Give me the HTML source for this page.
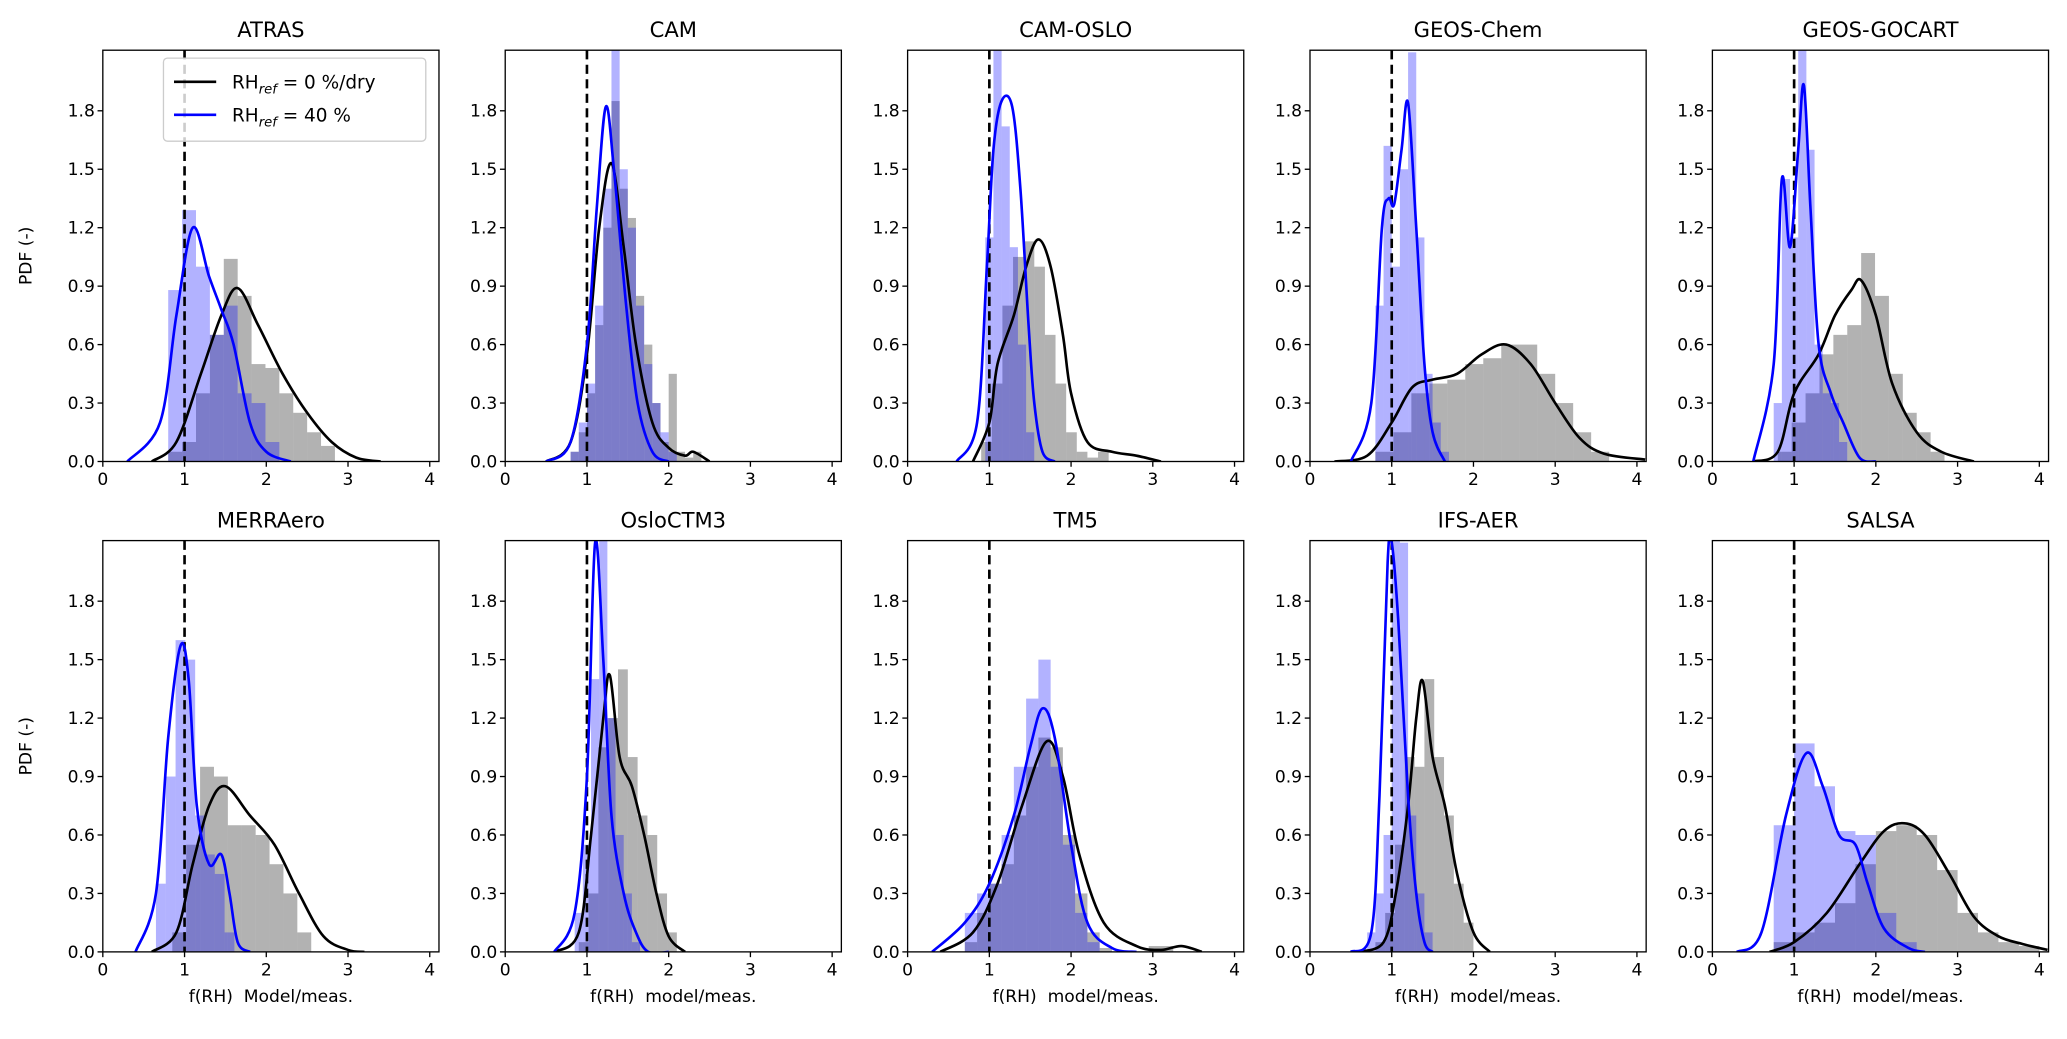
<!DOCTYPE html>
<html><head><meta charset="utf-8"><style>
html,body{margin:0;padding:0;background:#fff}
svg{display:block;font-family:"DejaVu Sans","Liberation Sans",sans-serif}
</style></head><body>
<svg id="chart" width="2067" height="1039" viewBox="0 0 1568 788" xmlns="http://www.w3.org/2000/svg"></svg>
<script>
const titles = ["ATRAS","CAM","CAM-OSLO","GEOS-Chem","GEOS-GOCART","MERRAero","OsloCTM3","TM5","IFS-AER","SALSA"];
const xTicks = [0,1,2,3,4];
const yTicks = [0.0,0.3,0.6,0.9,1.2,1.5,1.8];
const xLabels = ["f(RH)\u00a0\u00a0Model/meas.","f(RH)\u00a0\u00a0model/meas.","f(RH)\u00a0\u00a0model/meas.","f(RH)\u00a0\u00a0model/meas.","f(RH)\u00a0\u00a0model/meas."];
// histogram bins: [start, width, heights]
const dryHistStart = [0.8,0.8,0.9,0.8,0.8,0.85,0.9,0.7,0.8,0.75];
const dryHistWidth = [0.17,0.1,0.13,0.22,0.17,0.17,0.12,0.15,0.12,0.25];
const dryHist = [
 [0.05,0.1,0.35,0.65,1.04,0.85,0.5,0.48,0.35,0.25,0.15,0.08],
 [0.05,0.15,0.35,0.7,1.2,1.85,1.4,1.25,0.85,0.6,0.3,0.1,0.45,0.05,0.02,0.05],
 [0.1,0.4,0.8,1.05,1.13,1.0,0.65,0.4,0.15,0.05,0.02,0.05],
 [0.05,0.15,0.35,0.4,0.42,0.5,0.53,0.6,0.6,0.45,0.3,0.15,0.05],
 [0.05,0.2,0.35,0.55,0.65,0.7,1.07,0.85,0.45,0.25,0.15,0.05],
 [0.1,0.55,0.95,0.9,0.65,0.65,0.6,0.45,0.3,0.1],
 [0.05,0.3,1.05,1.2,1.45,1.0,0.7,0.6,0.3,0.1],
 [0.05,0.2,0.35,0.45,0.7,0.95,1.1,1.05,0.6,0.3,0.1,0.02,0,0,0,0.03,0.03],
 [0.05,0.2,0.55,1.0,0.95,1.4,1.0,0.7,0.35,0.15],
 [0.05,0.1,0.15,0.25,0.45,0.62,0.65,0.6,0.42,0.2,0.1,0.05,0.03]
];
const wetHistStart = [0.8,0.8,0.95,0.8,0.75,0.65,0.85,0.7,0.7,0.75];
const wetHistWidth = [0.17,0.1,0.1,0.1,0.1,0.12,0.1,0.15,0.1,0.25];
const wetHist = [
 [0.88,1.29,1.0,0.65,0.8,0.35,0.3,0.1],
 [0.05,0.2,0.4,0.8,1.4,2.2,1.5,1.2,0.8,0.5,0.3,0.15,0.05],
 [1.15,2.15,1.72,1.1,0.6,0.15],
 [0.8,1.62,1.0,1.5,2.1,1.15,0.45,0.2,0.05],
 [0.3,1.45,1.15,2.2,1.6,0.6,0.35,0.3,0.1],
 [0.35,0.9,1.6,1.5,0.7,0.5,0.4,0.1],
 [0.2,0.55,1.4,2.2,1.2,0.6,0.3,0.05],
 [0.2,0.3,0.35,0.6,0.95,1.3,1.5,0.95,0.55,0.2,0.05],
 [0.1,0.3,0.6,2.2,2.1,0.7,0.3,0.1],
 [0.65,1.07,0.85,0.62,0.6,0.2,0.05]
];
// KDE curves: x and y samples
const dryKdeX = [
 [0.6,0.9,1.2,1.45,1.65,1.9,2.2,2.5,2.8,3.1,3.4],
 [0.5,0.8,1.0,1.15,1.3,1.45,1.6,1.8,2.0,2.2,2.3,2.5],
 [0.8,1.0,1.1,1.3,1.45,1.6,1.75,1.9,2.0,2.2,2.5,2.8,3.1],
 [0.3,0.7,1.0,1.25,1.5,1.8,2.1,2.4,2.7,3.0,3.3,3.6,4.1],
 [0.5,0.8,1.0,1.3,1.5,1.7,1.82,2.0,2.2,2.5,2.8,3.2],
 [0.6,0.9,1.1,1.3,1.5,1.8,2.1,2.4,2.7,3.0,3.2],
 [0.6,0.9,1.05,1.2,1.28,1.4,1.55,1.7,1.85,2.0,2.2],
 [0.4,0.8,1.1,1.4,1.7,1.9,2.1,2.4,2.8,3.1,3.35,3.6],
 [0.6,0.9,1.05,1.2,1.3,1.38,1.5,1.65,1.8,2.0,2.2],
 [0.7,1.0,1.4,1.8,2.1,2.35,2.6,2.9,3.2,3.5,3.8,4.1]
];
const dryKdeY = [
 [0,0.1,0.45,0.75,0.89,0.7,0.45,0.25,0.1,0.02,0],
 [0,0.1,0.55,1.2,1.53,1.1,0.6,0.2,0.07,0.03,0.05,0],
 [0,0.2,0.5,0.75,1.0,1.14,1.0,0.65,0.35,0.1,0.05,0.03,0],
 [0,0.03,0.2,0.38,0.42,0.45,0.55,0.6,0.5,0.3,0.12,0.04,0.01],
 [0,0.05,0.35,0.55,0.75,0.88,0.93,0.75,0.4,0.15,0.05,0],
 [0,0.1,0.45,0.75,0.85,0.7,0.55,0.3,0.08,0.01,0],
 [0,0.1,0.6,1.2,1.42,1.0,0.85,0.6,0.3,0.08,0],
 [0,0.1,0.35,0.75,1.08,0.9,0.5,0.15,0.03,0.01,0.03,0],
 [0,0.05,0.3,0.75,1.2,1.39,1.0,0.75,0.4,0.1,0],
 [0,0.05,0.2,0.45,0.62,0.66,0.6,0.4,0.18,0.08,0.04,0.01]
];
const wetKdeX = [
 [0.3,0.7,0.9,1.1,1.3,1.45,1.6,1.8,2.0,2.3],
 [0.5,0.8,1.0,1.12,1.23,1.33,1.48,1.62,1.8,2.0],
 [0.6,0.85,0.97,1.05,1.15,1.28,1.38,1.48,1.55,1.65,1.8],
 [0.5,0.75,0.88,0.96,1.03,1.12,1.2,1.3,1.4,1.5,1.65],
 [0.5,0.75,0.85,0.95,1.05,1.12,1.2,1.3,1.45,1.6,1.8,2.0],
 [0.4,0.65,0.8,0.95,1.05,1.15,1.3,1.45,1.55,1.65,1.8],
 [0.6,0.85,1.0,1.1,1.2,1.3,1.45,1.6,1.75,2.0],
 [0.3,0.7,1.0,1.3,1.5,1.65,1.8,2.0,2.2,2.5,2.8],
 [0.5,0.75,0.85,0.95,1.0,1.08,1.2,1.3,1.4,1.5],
 [0.3,0.6,0.9,1.15,1.35,1.55,1.75,1.9,2.1,2.4,2.6]
];
const wetKdeY = [
 [0,0.2,0.75,1.2,0.95,0.78,0.6,0.2,0.05,0],
 [0,0.1,0.6,1.3,1.82,1.5,0.8,0.3,0.05,0],
 [0,0.2,1.0,1.6,1.85,1.82,1.4,0.7,0.3,0.05,0],
 [0,0.3,1.2,1.35,1.32,1.6,1.84,1.2,0.5,0.15,0],
 [0,0.5,1.45,1.1,1.6,1.93,1.3,0.6,0.35,0.2,0.02,0],
 [0,0.3,1.1,1.57,1.4,0.75,0.45,0.5,0.3,0.05,0],
 [0,0.2,0.9,2.1,1.5,0.7,0.3,0.1,0,0],
 [0,0.15,0.35,0.7,1.05,1.25,1.1,0.55,0.15,0.02,0],
 [0,0.1,0.8,2.0,2.1,1.7,0.8,0.3,0.05,0],
 [0,0.1,0.7,1.02,0.85,0.6,0.55,0.35,0.12,0.02,0]
];

const NS = "http://www.w3.org/2000/svg";
const svg = document.getElementById('chart');
const PX0 = 78, PDX = 305.25, PW = 255, XMAX = 255/62;
const ROWTOP = [38, 410], PH = 312, YMAX = 312/147.8;
function mk(tag, attrs, parent){const e=document.createElementNS(NS,tag);for(const k in attrs)e.setAttribute(k,attrs[k]);(parent||svg).appendChild(e);return e;}
function smooth(pts){
  let d = "M"+pts[0][0].toFixed(2)+","+pts[0][1].toFixed(2);
  for(let i=0;i<pts.length-1;i++){
    const p0=pts[i-1]||pts[i], p1=pts[i], p2=pts[i+1], p3=pts[i+2]||p2;
    const c1=[p1[0]+(p2[0]-p0[0])/6, p1[1]+(p2[1]-p0[1])/6];
    const c2=[p2[0]-(p3[0]-p1[0])/6, p2[1]-(p3[1]-p1[1])/6];
    d+=" C"+c1[0].toFixed(2)+","+c1[1].toFixed(2)+" "+c2[0].toFixed(2)+","+c2[1].toFixed(2)+" "+p2[0].toFixed(2)+","+p2[1].toFixed(2);
  }
  return d;
}
const defs = mk('defs',{});
titles.forEach((t,i)=>{
  const col=i%5, row=Math.floor(i/5);
  const left=PX0+col*PDX, top=ROWTOP[row], bottom=top+PH;
  const xs=v=>left+v/XMAX*PW, ys=v=>bottom-v/YMAX*PH;
  const g=mk('g',{});
  
  
  const cp=mk('clipPath',{id:'cp'+i},defs);
  mk('rect',{x:left,y:top,width:PW,height:PH},cp);
  const plot=mk('g',{'clip-path':'url(#cp'+i+')'},g);
  dryHist[i].forEach((h,k)=>{
    const x0=dryHistStart[i]+k*dryHistWidth[i];
    const r=mk('rect',{x:xs(x0),y:ys(h),width:xs(x0+dryHistWidth[i])-xs(x0),height:bottom-ys(h),fill:'#000','fill-opacity':0.3},plot);
    
    
  });
  wetHist[i].forEach((h,k)=>{
    const x0=wetHistStart[i]+k*wetHistWidth[i];
    const r=mk('rect',{x:xs(x0),y:ys(h),width:xs(x0+wetHistWidth[i])-xs(x0),height:bottom-ys(h),fill:'#0000ff','fill-opacity':0.3},plot);
    
    
  });
  const dl=mk('line',{x1:xs(1),x2:xs(1),y1:top,y2:bottom,stroke:'#000','stroke-width':2,'stroke-dasharray':'7,4'},plot);
  
  
  const dk=mk('path',{d:smooth(dryKdeX[i].map((x,k)=>[xs(x),ys(dryKdeY[i][k])])),fill:'none',stroke:'#000','stroke-width':2},plot);
  
  
  const wk=mk('path',{d:smooth(wetKdeX[i].map((x,k)=>[xs(x),ys(wetKdeY[i][k])])),fill:'none',stroke:'#0000ff','stroke-width':2},plot);
  
  
  const fr=mk('rect',{x:left,y:top,width:PW,height:PH,fill:'none',stroke:'#000','stroke-width':1},g);
  
  
  xTicks.forEach(v=>{
    mk('line',{x1:xs(v),x2:xs(v),y1:bottom,y2:bottom+4,stroke:'#000'},g);
    const tx=mk('text',{x:xs(v),y:bottom+18,'font-size':13,'text-anchor':'middle'},g);
    tx.textContent=v;
    
    
  });
  yTicks.forEach(v=>{
    mk('line',{x1:left-4,x2:left,y1:ys(v),y2:ys(v),stroke:'#000'},g);
    const tx=mk('text',{x:left-6,y:ys(v)+4.5,'font-size':13,'text-anchor':'end'},g);
    tx.textContent=v.toFixed(1);
    
    
  });
  const tt=mk('text',{x:left+PW/2,y:top-10,'font-size':16,'text-anchor':'middle'},g);
  tt.textContent=t;
  
  
  if(row===1){
    const xl=mk('text',{x:left+PW/2,y:bottom+38,'font-size':13,'text-anchor':'middle'},g);
    xl.textContent=xLabels[col];
    
    
  }
  if(col===0){
    const yl=mk('text',{x:0,y:0,'font-size':13,'text-anchor':'middle',transform:'translate(24,'+(top+PH/2)+') rotate(-90)'},g);
    yl.textContent='PDF (-)';
    
    
  }
});
// legend
const lg=mk('g',{});


mk('rect',{x:124,y:44,width:199,height:63,rx:3,fill:'#fff','fill-opacity':0.8,stroke:'#ccc'},lg);
mk('line',{x1:132,x2:164,y1:62,y2:62,stroke:'#000','stroke-width':2},lg);
mk('line',{x1:132,x2:164,y1:87,y2:87,stroke:'#0000ff','stroke-width':2},lg);
const l1=mk('text',{x:176,y:67,'font-size':14},lg);
l1.innerHTML='RH<tspan font-size="10" font-style="italic" dy="4">ref</tspan><tspan dy="-4"> = 0 %/dry</tspan>';


const l2=mk('text',{x:176,y:92,'font-size':14},lg);
l2.innerHTML='RH<tspan font-size="10" font-style="italic" dy="4">ref</tspan><tspan dy="-4"> = 40 %</tspan>';


</script>
</body></html>
